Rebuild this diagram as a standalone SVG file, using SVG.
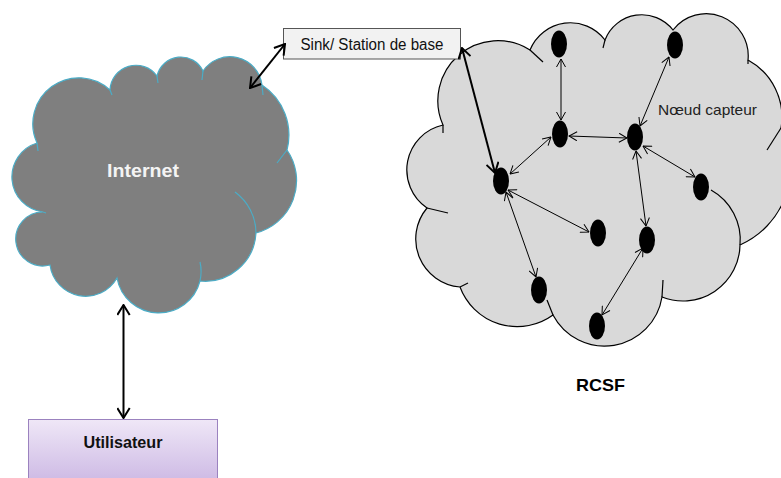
<svg xmlns="http://www.w3.org/2000/svg" width="781" height="478" viewBox="0 0 781 478">
<style>
.lbl{font-family:"Liberation Sans",Arial,sans-serif;}
.bold{font-weight:bold;}
.thick{stroke:#000;stroke-width:2;fill:none;marker-start:url(#ah);marker-end:url(#ah);}
.thin{stroke:#000;stroke-width:1;fill:none;marker-start:url(#at);marker-end:url(#at);}
.sensor{fill:#000;}
.inner-i{fill:none;stroke:#4bacc6;stroke-width:1.2;}
.inner-r{fill:none;stroke:#000;stroke-width:1.2;}
</style>
<defs>
<marker id="ah" viewBox="0 0 12 14" refX="11" refY="7" markerWidth="12" markerHeight="14" markerUnits="userSpaceOnUse" orient="auto-start-reverse">
<path d="M1,0.8 L11,7 L1,13.2" fill="none" stroke="#000" stroke-width="2"/>
</marker>
<marker id="at" viewBox="0 0 9 10" refX="8.5" refY="5" markerWidth="9" markerHeight="10" markerUnits="userSpaceOnUse" orient="auto-start-reverse">
<path d="M0.5,0.5 L8.5,5 L0.5,9.5" fill="none" stroke="#000" stroke-width="1"/>
</marker>
<linearGradient id="ug" x1="0" y1="0" x2="0" y2="1">
<stop offset="0" stop-color="#efe7f7"/>
<stop offset="1" stop-color="#c9b4e2"/>
</linearGradient>
</defs>

<g id="internet">
<path d="M37,143 A46,46 0 0 1 110,90 A26,26 0 0 1 157,76 A24.5,24.5 0 0 1 203,71 A32.4,32.4 0 0 1 262,85 A60,60 0 0 1 287,150 A54,54 0 0 1 256,233 A51,51 0 0 1 200,281 A42.5,42.5 0 0 1 117,278 A36,36 0 0 1 50,265 A27,27 0 1 1 43,212 A35.4,35.4 0 0 1 37,143 Z" fill="#7f7f7f" stroke="#4bacc6" stroke-width="1.2"/>
<path class="inner-i" d="M256,233 A51,51 0 0 0 235,192"/>
<path class="inner-i" d="M200,281 A42.5,42.5 0 0 0 200,262"/>
<path class="inner-i" d="M287,150 L277,163"/>
<path class="inner-i" d="M37,143 L38,151"/>
<path class="inner-i" d="M110,90 L112,95"/>
<path class="inner-i" d="M157,76 L158,83"/>
<path class="inner-i" d="M203,71 L202,80"/>
<path class="inner-i" d="M262,85 L263,95"/>
<path class="inner-i" d="M43,212 L46,213"/>
<text class="lbl bold" x="143" y="177" font-size="18" fill="#f4f4f4" text-anchor="middle" textLength="72" lengthAdjust="spacingAndGlyphs">Internet</text>
</g>

<g id="rcsf">
<path d="M427,208 A46,46 0 0 1 443,125 A60,60 0 0 1 530,50 A43.5,43.5 0 0 1 605,40 A39.5,39.5 0 0 1 673,30 A42,42 0 0 1 748,60 A65,65 0 0 1 781,128 A85,85 0 0 1 740,245 A57,57 0 0 1 662,297 A58.2,58.2 0 0 1 553,315 A61,61 0 0 1 460,287 A48.2,48.2 0 0 1 427,208 Z" fill="#d9d9d9" stroke="#000" stroke-width="1.2"/>
<path class="inner-r" d="M443,125 L443,133"/>
<path class="inner-r" d="M530,50 L543,62"/>
<path class="inner-r" d="M605,40 L603,48"/>
<path class="inner-r" d="M748,60 L748,64"/>
<path class="inner-r" d="M781,128 L767,150"/>
<path class="inner-r" d="M740,245 A57,57 0 0 0 711,190"/>
<path class="inner-r" d="M662,297 L663,280"/>
<path class="inner-r" d="M553,315 L547,300"/>
<path class="inner-r" d="M460,287 L468,283"/>
<path class="inner-r" d="M427,208 L448,213"/>
<text class="lbl bold" x="600.5" y="391" font-size="17" fill="#000" text-anchor="middle" textLength="49" lengthAdjust="spacingAndGlyphs">RCSF</text>
<text class="lbl" x="707.5" y="115" font-size="15" fill="#222" text-anchor="middle" textLength="99" lengthAdjust="spacingAndGlyphs">Nœud capteur</text>
</g>

<g id="sink">
<rect x="283.5" y="28.5" width="177" height="30.5" fill="#f2f2f2" stroke="#555" stroke-width="1"/>
<text class="lbl" x="372" y="50" font-size="16" fill="#111" text-anchor="middle" textLength="143" lengthAdjust="spacingAndGlyphs">Sink/ Station de base</text>
</g>

<g id="utilisateur">
<rect x="28.5" y="419.5" width="189" height="70" fill="url(#ug)" stroke="#9b82bf" stroke-width="1"/>
<text class="lbl bold" x="123" y="448" font-size="16" fill="#111" text-anchor="middle" textLength="79" lengthAdjust="spacingAndGlyphs">Utilisateur</text>
</g>

<g id="n1"><ellipse class="sensor" cx="501" cy="181" rx="8" ry="13.5"/></g>
<g id="n2"><ellipse class="sensor" cx="559" cy="44" rx="8" ry="13.5"/></g>
<g id="n3"><ellipse class="sensor" cx="675" cy="45" rx="8" ry="13.5"/></g>
<g id="n4"><ellipse class="sensor" cx="560" cy="134" rx="8" ry="13.5"/></g>
<g id="n5"><ellipse class="sensor" cx="635" cy="137" rx="8" ry="13.5"/></g>
<g id="n6"><ellipse class="sensor" cx="701" cy="187" rx="8" ry="13.5"/></g>
<g id="n7"><ellipse class="sensor" cx="598" cy="233" rx="8" ry="13.5"/></g>
<g id="n8"><ellipse class="sensor" cx="647" cy="240" rx="8" ry="13.5"/></g>
<g id="n9"><ellipse class="sensor" cx="539" cy="290" rx="8" ry="13.5"/></g>
<g id="n10"><ellipse class="sensor" cx="597" cy="326" rx="8" ry="13.5"/></g>

<g id="connectors">
<line class="thick" x1="285" y1="44" x2="250" y2="88"/>
<line class="thick" x1="462" y1="48" x2="495" y2="173"/>
<line class="thick" x1="123.5" y1="305" x2="123.5" y2="418"/>
<line class="thin" x1="561" y1="59" x2="561" y2="120"/>
<line class="thin" x1="569" y1="136" x2="627" y2="138"/>
<line class="thin" x1="551" y1="137" x2="510" y2="174"/>
<line class="thin" x1="669" y1="57" x2="640" y2="126"/>
<line class="thin" x1="643" y1="146" x2="695" y2="177"/>
<line class="thin" x1="636" y1="151" x2="646" y2="226"/>
<line class="thin" x1="508" y1="190" x2="589" y2="232"/>
<line class="thin" x1="506" y1="192" x2="536" y2="277"/>
<line class="thin" x1="643" y1="248" x2="602" y2="315"/>
</g>
</svg>
